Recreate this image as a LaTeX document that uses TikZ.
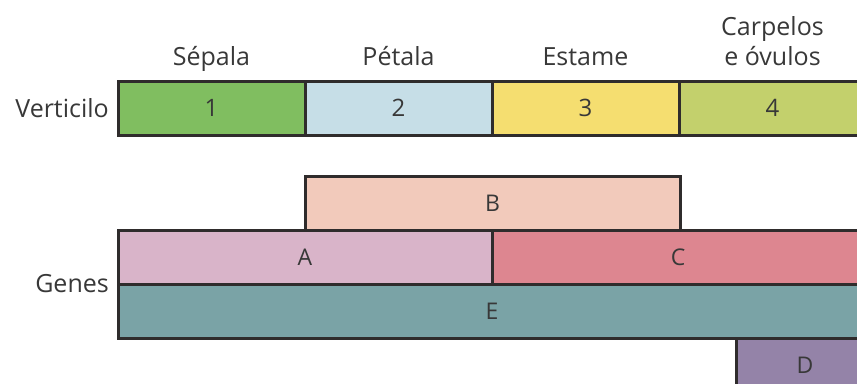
\documentclass[tikz,border=0pt]{standalone}
\usepackage{fontspec}
\setmainfont{Open Sans}
\usetikzlibrary{positioning}
\definecolor{boxline}{HTML}{2F2C2C}
\definecolor{labelgray}{HTML}{383838}
\definecolor{sepalgreen}{HTML}{80BE60}
\definecolor{petalblue}{HTML}{C6DEE7}
\definecolor{stamenyellow}{HTML}{F5DE70}
\definecolor{carpelgreen}{HTML}{C3D06C}
\definecolor{geneA}{HTML}{D9B4C9}
\definecolor{geneB}{HTML}{F2CABB}
\definecolor{geneC}{HTML}{DD8690}
\definecolor{geneD}{HTML}{9483A8}
\definecolor{geneE}{HTML}{7AA3A6}
\tikzset{
  floralpicture/.style={x=1pt, y=-1pt, node distance=0pt},
  floralbox/.style={draw=boxline, line width=3pt, outer sep=0pt, inner sep=0pt, minimum height=54pt, text=labelgray},
  whorlbox/.style={floralbox, minimum width=187pt, font=\fontsize{24}{28}\selectfont},
  genebox/.style={floralbox, font=\fontsize{23}{27}\selectfont},
  organtext/.style={inner sep=0pt, align=center, text=labelgray, font=\fontsize{25}{30}\selectfont, text depth=6pt},
  sidetext/.style={inner sep=0pt, text=labelgray, font=\fontsize{25}{28}\selectfont}
}
\begin{document}
\begin{tikzpicture}[floralpicture]
\useasboundingbox (0,0) rectangle (857,383);
\clip (0,0) rectangle (857,383);
% whorls
\node[whorlbox, fill=sepalgreen, anchor=north west] (w1) at (118,81) {1};
\node[whorlbox, fill=petalblue, right=of w1] (w2) {2};
\node[whorlbox, fill=stamenyellow, right=of w2] (w3) {3};
\node[whorlbox, fill=carpelgreen, right=of w3] (w4) {4};
\node[organtext, above=9pt of w1] (sepal) {Sépala};
\node[organtext, above=9pt of w2] (petal) {Pétala};
\node[organtext, above=9pt of w3] (stamen) {Estame};
\node[organtext, above=9pt of w4] (carpel) {Carpelos\\e óvulos};
\node[sidetext, left=9pt of w1] (whorl) {Verticilo};
% genes
\node[genebox, fill=geneA, minimum width=374pt, below=95pt of w1.south west, anchor=north west] (a) {A};
\node[genebox, fill=geneC, minimum width=372pt, right=of a] (c) {C};
\node[genebox, fill=geneB, minimum width=375pt, anchor=south west] (b) at (w2.west |- a.north) {B};
\node[genebox, fill=geneE, minimum width=748pt, below=of a.south west, anchor=north west] (e) {E};
\node[genebox, fill=geneD, minimum width=138pt, anchor=north west, xshift=57pt] (d) at (w4.west |- e.south) {D};
\node[sidetext, left=9pt of a.south west] (genes) {Genes};
\end{tikzpicture}
\end{document}
